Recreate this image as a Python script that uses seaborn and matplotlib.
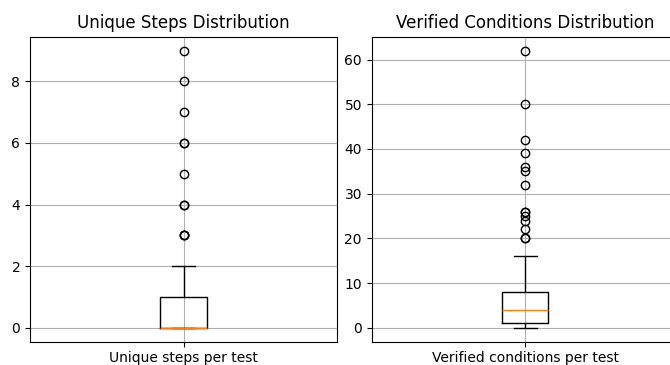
import numpy as np
import pandas as pd
import matplotlib
matplotlib.use("Agg")
import matplotlib.pyplot as plt
import seaborn as sns

# Unique steps per test: distinct values and how many tests had each
steps_values = [0, 1, 2, 3, 4, 5, 6, 7, 8, 9]
steps_counts = [35, 14, 5, 3, 2, 1, 2, 1, 1, 1]

# Verified conditions per test: distinct values and their counts
cond_values = [0, 1, 2, 3, 4, 5, 6, 7, 8, 9, 10, 11, 12, 14, 15, 16,
               20, 22, 24, 25, 26, 32, 35, 36, 39, 42, 50, 62]
cond_counts = [10, 16, 9, 8, 8, 7, 7, 6, 6, 2, 2, 1, 2, 1, 1, 1,
               2, 1, 1, 1, 2, 1, 1, 1, 1, 1, 1, 1]

titles = ["Unique Steps Distribution", "Verified Conditions Distribution"]
labels = ["Unique steps per test", "Verified conditions per test"]

steps = np.repeat(steps_values, steps_counts)
conds = np.repeat(cond_values, cond_counts)

fig = plt.figure(figsize=(6.7, 3.65), dpi=100)
ax1 = fig.add_axes([30 / 670, 23.3 / 365, 307 / 670, 305 / 365])
ax2 = fig.add_axes([371.7 / 670, 23.3 / 365, 307 / 670, 305 / 365])

box_kws = dict(
    width=0.15,
    fill=False,
    color="black",
    linewidth=1.0,
    whis=1.5,
    medianprops=dict(color="#ff7f0e", linewidth=1.0),
    flierprops=dict(marker="o", markersize=6, markerfacecolor="none",
                    markeredgecolor="black", markeredgewidth=1.0),
)

for ax, vals, title, label in [(ax1, steps, titles[0], labels[0]),
                               (ax2, conds, titles[1], labels[1])]:
    df = pd.DataFrame({label: vals})
    sns.boxplot(data=df, ax=ax, **box_kws)
    ax.set_title(title, fontsize=12)
    ax.set_xlabel("")
    ax.set_ylabel("")
    ax.grid(True, color="#b0b0b0", linewidth=0.8)
    ax.set_axisbelow(True)
    ax.tick_params(labelsize=10)
    for s in ax.spines.values():
        s.set_linewidth(0.8)
        s.set_color("black")

ax1.set_yticks([0, 2, 4, 6, 8])
ax2.set_yticks([0, 10, 20, 30, 40, 50, 60])

fig.savefig("out.png", dpi=100)
